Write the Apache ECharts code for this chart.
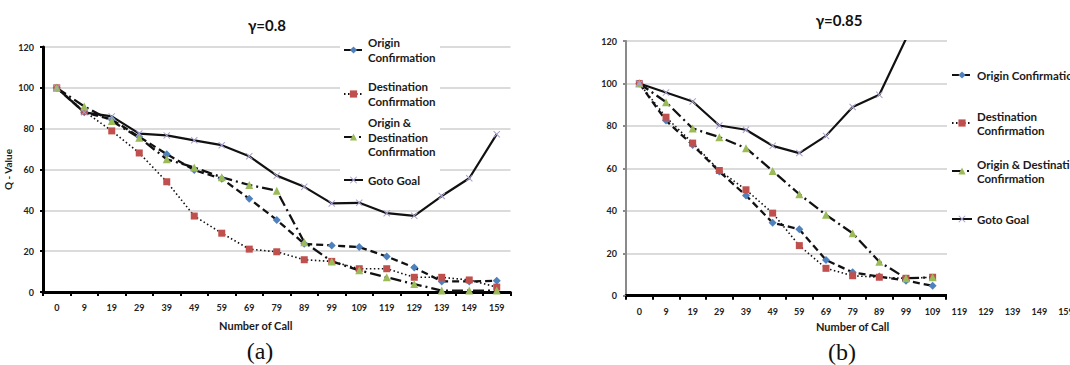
<!DOCTYPE html>
<html>
<head>
<meta charset="utf-8">
<script src="https://cdn.jsdelivr.net/npm/echarts@6/dist/echarts.min.js"></script>
<style>
  html, body { margin: 0; padding: 0; background: #ffffff; }
  #chart { width: 1070px; height: 365px; }
</style>
</head>
<body>
<div id="chart"></div>
<script>
// Call numbers on the x axis
const categories = ['0', '9', '19', '29', '39', '49', '59', '69', '79', '89', '99', '109', '119', '129', '139', '149', '159'];
const seriesNames = ['Origin Confirmation', 'Destination Confirmation', 'Origin & Destination Confirmation', 'Goto Goal'];

// Q-values, gamma = 0.8
const originA = [100, 88, 84.5, 76, 67.5, 59.7, 55.5, 45.7, 35.3, 23.6, 22.8, 22, 17.4, 12, 5.2, 5.2, 5.5];
const destA   = [100, 88.5, 78.9, 68.1, 54, 37.2, 28.8, 21, 19.7, 15.8, 15, 11.4, 11.4, 7.2, 7.2, 5.9, 2.4];
const bothA   = [100, 90.9, 83.7, 75.6, 65, 61, 56.2, 52.4, 49.6, 24.4, 15, 10.6, 7.2, 3.9, 0.7, 0.7, 0.7];
const gotoA   = [100, 88, 86, 77.6, 76.7, 74.3, 71.9, 66.5, 57, 51.5, 43.4, 43.7, 38.6, 37.3, 47, 55.7, 77.3];

// Q-values, gamma = 0.85
const originB = [100, 82.5, 71, 58.5, 47.2, 34.4, 31.3, 16.8, 11, 9, 7.1, 4.7];
const destB   = [100, 84.1, 71.9, 59, 49.9, 38.9, 23.6, 12.9, 9.4, 8.7, 8.2, 8.7];
const bothB   = [100, 91.2, 78.8, 74.7, 69.5, 58.8, 47.8, 38.1, 29.4, 16, 8.2, 8.7];
const gotoB   = [100, 95.7, 91.5, 80.2, 78.2, 70.6, 67.2, 75.3, 88.9, 94.7, 121];

// Value axis range
const yMin = 0, yMax = 120, yStep = 20;

// Texts
const chartTitles = ['γ=0.8', 'γ=0.85'];
const captions = ['(a)', '(b)'];
const xAxisTitle = 'Number of Call';
const yAxisTitle = 'Q - Value';
const legendTextA = ['Origin\nConfirmation', 'Destination\nConfirmation', 'Origin &\nDestination\nConfirmation', 'Goto Goal'];
const legendTextB = ['Origin Confirmation', 'Destination\nConfirmation', 'Origin & Destination\nConfirmation', 'Goto Goal'];

const FONT = 'Lato, "Open Sans", "Liberation Sans", sans-serif';
const SERIF = '"Liberation Serif", "DejaVu Serif", serif';
const CROSS = 'path://M1,0L5,4L9,0L10,1L6,5L10,9L9,10L5,6L1,10L0,9L4,5L0,1Z';

// Marker and line look of each series
const looks = [
  { symbol: 'diamond',  size: 8, color: '#4f81bd', type: [7, 4],         width: 2.3 },
  { symbol: 'rect',     size: 7, color: '#c0504d', type: [1.5, 2.5],     width: 1.6 },
  { symbol: 'triangle', size: 8, color: '#9bbb59', type: [11, 4, 2, 4],  width: 2.3 },
  { symbol: CROSS,      size: 7, color: '#a7a1cf', type: 'solid',        width: 2.2 }
];

function makeSeries(sets, idx) {
  return sets.map((d, k) => ({
    name: seriesNames[k],
    type: 'line',
    xAxisIndex: idx,
    yAxisIndex: idx,
    data: d,
    symbol: looks[k].symbol,
    symbolSize: looks[k].size,
    itemStyle: { color: looks[k].color },
    lineStyle: { color: '#111', width: looks[k].width, type: looks[k].type },
    clip: true,
    z: 3
  }));
}

// One legend box per entry so each can sit at its own height;
// the top padding keeps the icon level with the first text line.
function makeLegend(k, text, left, firstLineY, lh, iconW) {
  const n = text.split('\n').length;
  const h = (2 * n - 1) * lh;
  return {
    data: [{ name: seriesNames[k], textStyle: { padding: [(n - 1) * lh, 0, 0, 0] } }],
    formatter: text,
    left: left,
    top: firstLineY - h / 2,
    padding: 0,
    itemWidth: iconW,
    itemHeight: 9,
    selectedMode: false,
    textStyle: { fontFamily: FONT, fontSize: 11.5, fontWeight: 'bold', color: '#1a1a1a', lineHeight: lh }
  };
}

const legendYA = [50, 94, 137, 180];
const legendYB = [75, 123, 171, 219];
const legends = [];
legendTextA.forEach((t, k) => legends.push(makeLegend(k, t, 343, legendYA[k], 14.5, 19)));
legendTextB.forEach((t, k) => legends.push(makeLegend(k, t, 951, legendYB[k], 14, 20)));

const labelStyle = { fontFamily: FONT, fontSize: 9, fontWeight: 'bold', color: '#222' };

function xAxisFor(idx, nameGap, namePad) {
  return {
    type: 'category',
    gridIndex: idx,
    data: categories,
    boundaryGap: true,
    axisLine: { show: true, lineStyle: { color: '#000', width: 3 } },
    axisTick: { show: true, length: 4, lineStyle: { color: '#000', width: 2 } },
    axisLabel: Object.assign({ margin: 11, interval: 0 }, labelStyle),
    splitLine: { show: false },
    name: xAxisTitle,
    nameLocation: 'middle',
    nameGap: nameGap,
    nameTextStyle: { fontFamily: FONT, fontSize: 11, fontWeight: 'bold', color: '#1a1a1a', padding: namePad }
  };
}

function yAxisFor(idx, lineColor, lineWidth, name) {
  return {
    type: 'value',
    gridIndex: idx,
    min: yMin, max: yMax, interval: yStep,
    axisLine: { show: true, lineStyle: { color: lineColor, width: lineWidth } },
    axisTick: { show: true, length: 3, lineStyle: { color: lineColor, width: 2 } },
    axisLabel: Object.assign({ margin: 9 }, labelStyle),
    splitLine: { show: true, lineStyle: { color: '#cfcfcf', width: 1.5 } },
    name: name,
    nameLocation: 'middle',
    nameRotate: 90,
    nameGap: 30,
    nameTextStyle: { fontFamily: FONT, fontSize: 10, fontWeight: 'bold', color: '#1a1a1a' }
  };
}

const chart = echarts.init(document.getElementById('chart'), null, { renderer: 'svg' });
chart.setOption({
  animation: false,
  backgroundColor: '#ffffff',
  title: [
    { text: chartTitles[0], left: 267, top: 17, textAlign: 'center', padding: 0,
      textStyle: { fontFamily: FONT, fontSize: 15, fontWeight: 'bold', color: '#111' } },
    { text: chartTitles[1], left: 839, top: 12, textAlign: 'center', padding: 0,
      textStyle: { fontFamily: FONT, fontSize: 15, fontWeight: 'bold', color: '#111' } },
    { text: captions[0], left: 260, top: 339, textAlign: 'center', padding: 0,
      textStyle: { fontFamily: SERIF, fontSize: 24, fontWeight: 'normal', color: '#111' } },
    { text: captions[1], left: 842, top: 340, textAlign: 'center', padding: 0,
      textStyle: { fontFamily: SERIF, fontSize: 24, fontWeight: 'normal', color: '#111' } }
  ],
  grid: [
    { left: 43, top: 47, width: 467.5, height: 245, containLabel: false, outerBoundsMode: 'none' },
    { left: 626, top: 41, width: 453.3, height: 254.7, containLabel: false, outerBoundsMode: 'none' }
  ],
  xAxis: [
    xAxisFor(0, 28, [0, 42, 0, 0]),
    xAxisFor(1, 20, 0)
  ],
  yAxis: [
    yAxisFor(0, '#000', 3, yAxisTitle),
    yAxisFor(1, '#8a8a8a', 2, '')
  ],
  legend: legends,
  // white legend panels lying over the plot areas
  graphic: [
    { type: 'rect', z: 1, silent: true, shape: { x: 340, y: 40, width: 100, height: 152 }, style: { fill: '#ffffff' } },
    { type: 'rect', z: 1, silent: true, shape: { x: 947, y: 36, width: 130, height: 268 }, style: { fill: '#ffffff' } }
  ],
  series: makeSeries([originA, destA, bothA, gotoA], 0).concat(makeSeries([originB, destB, bothB, gotoB], 1))
});
</script>
</body>
</html>
